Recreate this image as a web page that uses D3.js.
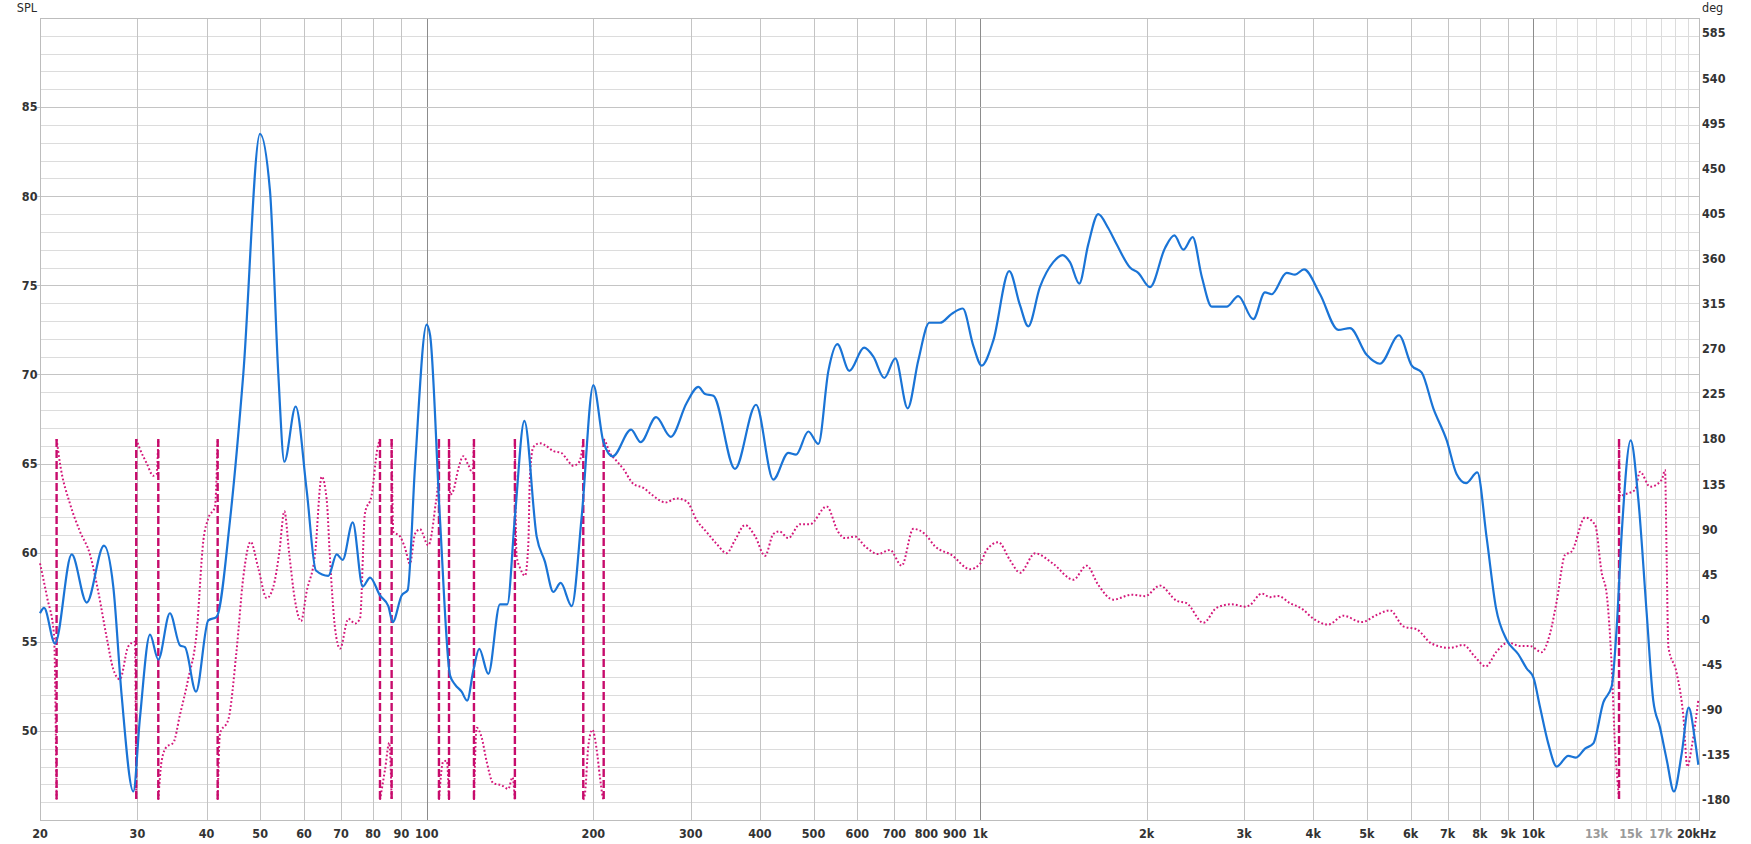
<!DOCTYPE html>
<html><head><meta charset="utf-8">
<script src="https://cdn.jsdelivr.net/npm/d3@7"></script>
<style>
body{margin:0;background:#fff}
svg text{font-family:"Liberation Sans Narrow","DejaVu Sans Condensed","Roboto Condensed",sans-serif;}
</style>
</head><body><svg id="c" width="1751" height="844"></svg>
<script>
// ---- data ----
const splFreq=[20,20.34,21.29,22.82,24.29,26.1,27.13,28.09,29.49,30.31,31.61,32.72,34.34,35.81,36.56,38.28,40.29,41.71,44.09,46.6,49.96,52.08,53.92,55.29,57.95,60.67,63.05,66.4,68.73,70.47,73.49,76.61,78.99,82.31,85.22,86.77,90.08,92.37,95.21,99.94,101.4,105.6,110.2,112.5,115.6,118.3,121.4,124.4,129.2,135.6,139.8,144.3,150.1,158,163.5,169.3,174.6,182.8,190.5,200,208.6,216.8,234,243.6,259.7,276,294.9,309.6,318.4,329.6,360.6,393.6,422.9,450.2,464.9,489.4,510.2,531.9,552.1,580.4,617,641.3,671.3,702.7,739.9,773.3,809.6,846.4,888.6,930.3,972.3,1006.4,1056.4,1128.9,1180.2,1221.7,1282.6,1355.9,1409.7,1453.4,1510.7,1568.5,1635,1705,1765,1866,1931,2028,2159,2244,2330,2422,2515,2622,2790,2928,3116,3272,3364,3581,3708,3849,4115,4439,4661,4995,5280,5715,6026,6283,6593,6971,7266,7554,7918,8234,8557,8947,9390,9724,9997,10275,10636,11015,11561,11937,12395,12831,13377,13851,14141,14440,14988,15471,16021,16466,16930,17408,17944,18528,19077,19584,19862];
const splDb=[56.6,56.9,54.9,59.9,57.2,60.4,58.1,52.0,46.6,50.7,55.4,54.0,56.6,54.8,54.7,52.2,56.2,56.4,61.8,70.0,83.5,80.3,70.0,65.1,68.2,63.5,59.0,58.7,59.9,59.6,61.7,58.1,58.6,57.6,57.0,56.1,57.6,57.9,64.8,72.8,72.2,62.0,53.1,52.6,52.2,51.7,53.4,54.6,53.2,57.1,57.1,62.0,67.4,60.9,59.5,57.8,58.3,57.0,62.0,69.4,66.2,65.4,66.9,66.2,67.6,66.5,68.4,69.3,68.9,68.8,64.7,68.3,64.1,65.6,65.5,66.8,66.1,70.2,71.7,70.2,71.5,71.0,69.8,70.9,68.1,70.8,72.9,72.9,73.4,73.7,71.6,70.5,71.9,75.8,73.9,72.7,74.9,76.3,76.7,76.3,75.1,77.3,79.0,78.2,77.3,76.0,75.7,74.9,77.1,77.8,77.0,77.7,75.5,73.8,73.8,74.4,73.1,74.6,74.5,75.7,75.6,75.9,74.5,72.5,72.6,71.1,70.6,72.2,70.5,70.1,68.1,66.3,64.4,63.9,64.5,60.8,56.9,55.1,54.3,53.5,53.0,51.35,49.3,48.0,48.6,48.5,49.0,49.3,51.6,52.5,55.8,61.1,66.3,63.0,56.6,51.7,50.2,48.4,46.6,48.7,51.3,49.5,48.1];

// phase (wrapped to +-180; a repeated frequency marks a wrap)
const phaseFreq=[20,20.6,21.2,21.43,21.43,21.73,22.67,23.63,24.63,25.48,26.39,27.13,27.89,28.88,29.69,29.85,29.85,30.31,31.17,32.05,32.49,32.72,32.72,33.18,33.87,34.83,35.81,37.07,38.38,39.46,40.29,41.43,41.89,41.89,42.29,43.78,45.32,46.6,48.05,49.61,51.36,52.81,54.14,55.29,56.44,57.79,59.26,60.67,62.81,64.58,65.94,66.86,68.26,69.7,72.16,74.19,75.74,77.33,79.5,81.4,82.31,82.31,84.04,85.57,86.4,86.4,87,89.45,91.32,93.25,95.21,97.21,100.64,103.5,104.9,105.2,105.2,107.1,108.7,109.7,109.7,110.2,111.7,114,116.4,118.9,121,121.7,121.7,123.1,125.7,128.3,131.9,136.5,140.4,142.9,144.3,144.3,145.3,147.4,150.5,152.6,153.6,155.8,160.1,163.5,169.3,175.3,179,184,187.9,190.5,191.8,191.8,193.2,195.9,199.2,202.8,205.6,208,208.8,208.8,210,214.4,220.4,226.6,236.2,246.3,255,264,269.5,282.9,294.9,307.5,320.6,334.2,348.4,360.6,376,392,408.6,422.9,433.6,450.2,472.6,492.7,528.1,554.3,570,594.3,619.5,654.6,687.4,721.6,757.4,795.1,829,888.6,958.8,999.6,1027.7,1079,1133,1181,1257,1356,1474,1558,1635,1741,1879,1986,2113,2266,2362,2532,2677,2848,3011,3075,3227,3341,3459,3631,3812,4001,4259,4533,4892,5206,5506,5821,6152,6546,7067,7469,7840,8197,8581,9006,9455,9857,10350,10715,11015,11404,11725,12395,12924,13286,13566,13851,14045,14200,14279,14279,14338,14538,15263,15583,16246,17054,17291,17410,17532,18152,18664,18977,19324,19862];
const phaseDeg=[56,22,-15,-180,180,156,115,87.6,64.7,28,-17.6,-49.6,-59.7,-26.8,-22.2,-180,180,170,156,143.4,144.8,180,-180,-141,-127,-123,-95,-59,-13,78.4,101,112.8,180,-180,-113.7,-100,-31,42,77.5,51,21.3,32.7,67,108,64.7,19,-1.6,28,64.7,142.5,119.6,60,-8.5,-29,0.7,-4,0.7,106,124,170,180,-180,-150,-123,-180,180,87.6,83,71.6,55.6,85.3,90,74,110.8,142.3,180,-180,-141.6,-141,-180,180,124.6,128.5,150,162.9,154,146.3,180,-180,-108.1,-118,-141.6,-163.3,-165.3,-169,-157.4,-180,180,63.5,51.6,43.7,75.3,142.3,172,175.9,174,168,166,160,153.4,156,166,180,-180,-173,-125.9,-110,-129.8,-157.4,-177,-180,180,177.9,166,158.1,150.2,135.3,131.3,124.6,118.7,116.7,120.7,117.9,99,87.1,75.3,66.2,79.2,94.2,83.2,63.5,85.2,87.9,81.2,95,95,112.8,87.1,81.2,82.7,73,65.3,69.4,53.7,90.4,85.2,73,64.2,50.2,55.5,69.4,77.1,59,46.7,66,55.5,39.7,53.7,34.5,19.8,24.7,23.3,33.8,18.7,16.3,-3.3,11.7,15.2,12.8,14.5,25.9,22.3,23.4,16.2,10.9,0.9,-5.1,3.8,-2.6,4.5,9.1,-6.9,-9.8,-24,-28.3,-25.4,-37.2,-46.8,-31.9,-23,-26.5,-26.5,-32.6,-14,18,64.3,67.9,101.7,94.6,46.5,25.1,-47,-126.9,-163.4,-180,180,122.5,124.2,129.2,147.4,132.5,139.2,149.1,60,-27.1,-53.6,-96.9,-146.8,-126.9,-80.3];

const splTicks=[50,55,60,65,70,75,80,85];
const degTicks=[-180,-135,-90,-45,0,45,90,135,180,225,270,315,360,405,450,495,540,585];
const xTickValues=[20,30,40,50,60,70,80,90,100,200,300,400,500,600,700,800,900,1000,2000,3000,4000,5000,6000,7000,8000,9000,10000,13000,15000,17000,20000];
const xTickLabels=["20","30","40","50","60","70","80","90","100","200","300","400","500","600","700","800","900","1k","2k","3k","4k","5k","6k","7k","8k","9k","10k","13k","15k","17k","20kHz"];
const xGreyLabels=["13k","15k","17k"];

// ---- chart ----
const svg=d3.select("#c");
const L=40,R=1700,T=18,B=820;
const x=d3.scaleLog().domain([20,20000]).range([L,R]);
const y=d3.scaleLinear().domain([45,90]).range([B,T]);
const yp=d3.scaleLinear().domain([-200,600]).range([B,T]);

const g=svg.append("g").attr("shape-rendering","crispEdges");
const hv=d3.range(46,90);
g.selectAll(".hmin").data(hv.filter(v=>v%5!==0)).join("line")
 .attr("x1",L).attr("x2",R).attr("y1",d=>Math.round(y(d))+0.5).attr("y2",d=>Math.round(y(d))+0.5)
 .attr("stroke","#dcdcdc").attr("stroke-width",1);
const vf=[];
[10,100,1000].forEach(dec=>{for(let k=2;k<=9;k++){const f=k*dec; if(f>20&&f<20000) vf.push(f);} if(dec*10<20000) vf.push(dec*10);});
for(let f=11000;f<20000;f+=1000) vf.push(f);
const vcol=f=>(f===100||f===1000||f===10000)?"#8c8c8c":(f>10000?"#dcdcdc":"#c4c4c4");
const uniq=[...new Set(vf)].sort((a,b)=>vcol(a)==="#dcdcdc"?-1:1);
g.selectAll(".vg").data(uniq).join("line")
 .attr("x1",d=>Math.round(x(d))+0.5).attr("x2",d=>Math.round(x(d))+0.5).attr("y1",T).attr("y2",B)
 .attr("stroke",vcol).attr("stroke-width",1);
g.selectAll(".hmaj").data(hv.filter(v=>v%5===0)).join("line")
 .attr("x1",L-3).attr("x2",R).attr("y1",d=>Math.round(y(d))+0.5).attr("y2",d=>Math.round(y(d))+0.5)
 .attr("stroke","#c4c4c4").attr("stroke-width",1);
g.append("rect").attr("x",L+0.5).attr("y",T+0.5).attr("width",R-L-1).attr("height",B-T)
 .attr("fill","none").attr("stroke","#bdbdbd");

// phase segments split at wraps
const pts=phaseFreq.map((f,i)=>[f,phaseDeg[i]]);
const segs=[[pts[0]]], wraps=[];
for(let i=1;i<pts.length;i++){
  const a=pts[i-1], b=pts[i];
  if(a[0]===b[0] && Math.abs(a[1]-b[1])>=300){ wraps.push(a[0]); segs.push([b]); }
  else segs[segs.length-1].push(b);
}
const pline=d3.line().x(d=>x(d[0])).y(d=>yp(d[1])).curve(d3.curveMonotoneX);
svg.append("g").selectAll("path").data(segs).join("path")
 .attr("d",pline).attr("fill","none").attr("stroke","#d4177a").attr("stroke-width",2)
 .attr("stroke-dasharray","1.8,2.2");
svg.append("g").selectAll("line").data(wraps).join("line")
 .attr("x1",d=>x(d)).attr("x2",d=>x(d)).attr("y1",yp(180)).attr("y2",yp(-180))
 .attr("stroke","#c70c6c").attr("stroke-width",2.4).attr("stroke-dasharray","8,3");

// SPL
const sline=d3.line().x((d,i)=>x(splFreq[i])).y(d=>y(d)).curve(d3.curveMonotoneX);
svg.append("path").datum(splDb).attr("d",sline).attr("fill","none")
 .attr("stroke","#1a74d6").attr("stroke-width",2.2).attr("stroke-linejoin","round");

// labels
const lab=svg.append("g").attr("font-size",12.5).attr("fill","#2a2a2a");
const tk=lab.append("g").attr("font-weight","bold").attr("fill","#333");
tk.selectAll(".yl").data(splTicks).join("text").attr("x",37.5).attr("y",d=>y(d)).attr("dy","0.35em")
 .attr("text-anchor","end").text(d=>d);
tk.selectAll(".yr").data(degTicks).join("text").attr("x",1702).attr("y",d=>yp(d)).attr("dy","0.35em")
 .text(d=>d<0?"-"+Math.abs(d):d);
svg.append("line").attr("x1",1700).attr("x2",1704).attr("y1",yp(0)).attr("y2",yp(0)).attr("stroke","#1a74d6");
tk.selectAll(".xl").data(xTickValues).join("text")
 .attr("x",(d,i)=>i===xTickValues.length-1?x(d)+16:x(d)).attr("y",838)
 .attr("text-anchor",(d,i)=>i===xTickValues.length-1?"end":"middle")
 .attr("fill",(d,i)=>xGreyLabels.includes(xTickLabels[i])?"#9a9a9a":"#333")
 .text((d,i)=>xTickLabels[i]);
lab.append("text").attr("x",37).attr("y",12.3).attr("text-anchor","end").text("SPL");
lab.append("text").attr("x",1702).attr("y",12).text("deg");
</script></body></html>
